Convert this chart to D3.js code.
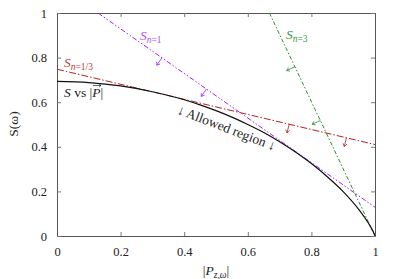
<!DOCTYPE html>
<html>
<head>
<script src="https://d3js.org/d3.v7.min.js"></script>
<style>
  body { margin: 0; background: #fff; }
  svg text { font-family: "Liberation Serif", serif; }
</style>
</head>
<body>
<div id="chart"></div>
<script>
// black curve: S vs |P|
const curveP = [0, 0.1, 0.2, 0.3, 0.4, 0.45, 0.5, 0.55, 0.6, 0.65, 0.7, 0.75, 0.8, 0.85, 0.9, 0.95, 0.98, 0.99, 0.995, 1];
const curveS = [0.693, 0.688, 0.673, 0.647, 0.611, 0.588, 0.562, 0.533, 0.500, 0.464, 0.423, 0.377, 0.325, 0.266, 0.199, 0.117, 0.056, 0.032, 0.018, 0];

// tangent bounds S_n: endpoints [x0, y0, x1, y1] and positions of the arrows (x on the line)
const lineNames = ["n=1/3", "n=1", "n=3"];
const lineColors = ["#b22222", "#a020f0", "#2e8b2e"];
const lineEnds = [[0, 0.748, 1, 0.41], [0.129, 1, 1, 0.129], [0.668, 1, 1, 0]];
const arrowX = [[0.73, 0.91], [0.33, 0.47], [0.748, 0.828]];
const lineDash = ["7,2,1.5,2", "5,2,1.5,2,1.5,2", "4,2,1.5,2"];

const xTicks = [0, 0.2, 0.4, 0.6, 0.8, 1];
const yTicks = [0, 0.2, 0.4, 0.6, 0.8, 1];

const FONT = "Liberation Serif";
const width = 399, height = 279;
const margin = {top: 13, right: 24, bottom: 43, left: 57};

const x = d3.scaleLinear().domain([0, 1]).range([margin.left, width - margin.right]);
const y = d3.scaleLinear().domain([0, 1]).range([height - margin.bottom, margin.top]);

const svg = d3.select("#chart").append("svg")
    .attr("width", width)
    .attr("height", height);

svg.append("clipPath").attr("id", "clip")
  .append("rect")
    .attr("x", margin.left).attr("y", margin.top)
    .attr("width", x(1) - x(0)).attr("height", y(0) - y(1));

// axes with inward ticks on all four sides
const fmt = d => d === 0 || d === 1 ? d3.format("d")(d) : d3.format(".1f")(d);
function styleAxis(g) {
  g.attr("font-family", FONT);
  g.select(".domain").attr("stroke", "#555");
  g.selectAll(".tick line").attr("stroke", "#777");
  g.selectAll(".tick text").style("font-family", FONT).style("font-size", "12.5px").attr("fill", "#222");
}
svg.append("g")
    .attr("transform", "translate(0," + y(0) + ")")
    .call(d3.axisBottom(x).tickValues(xTicks).tickFormat(fmt).tickSizeInner(-4).tickSizeOuter(0).tickPadding(11))
    .call(styleAxis);
svg.append("g")
    .attr("transform", "translate(0," + y(1) + ")")
    .call(d3.axisTop(x).tickValues(xTicks).tickFormat("").tickSizeInner(-4).tickSizeOuter(0))
    .call(styleAxis);
svg.append("g")
    .attr("transform", "translate(" + x(0) + ",0)")
    .call(d3.axisLeft(y).tickValues(yTicks).tickFormat(fmt).tickSizeInner(-4).tickSizeOuter(0).tickPadding(10))
    .call(styleAxis);
svg.append("g")
    .attr("transform", "translate(" + x(1) + ",0)")
    .call(d3.axisRight(y).tickValues(yTicks).tickFormat("").tickSizeInner(-4).tickSizeOuter(0))
    .call(styleAxis);

const plot = svg.append("g").attr("clip-path", "url(#clip)");

// tangent lines
lineEnds.forEach((e, i) => {
  plot.append("line")
      .attr("x1", x(e[0])).attr("y1", y(e[1]))
      .attr("x2", x(e[2])).attr("y2", y(e[3]))
      .attr("stroke", lineColors[i])
      .attr("stroke-width", 1)
      .attr("stroke-dasharray", lineDash[i]);

  // arrows pointing to the allowed side
  const dx = x(e[2]) - x(e[0]), dy = y(e[3]) - y(e[1]);
  const len = Math.hypot(dx, dy);
  const nx = -dy / len, ny = dx / len; // perpendicular
  const sx = nx < 0 ? nx : -nx, sy = nx < 0 ? ny : -ny;
  arrowX[i].forEach(ax => {
    const t = (ax - e[0]) / (e[2] - e[0]);
    const px = x(ax), py = y(e[1] + t * (e[3] - e[1]));
    const L = 9;
    const tx = px + sx * L, ty = py + sy * L;
    const ang = Math.atan2(sy, sx);
    const h = 3.5, a = 0.6;
    plot.append("path")
        .attr("d", "M" + px + "," + py + "L" + tx + "," + ty +
          "M" + (tx - h * Math.cos(ang - a)) + "," + (ty - h * Math.sin(ang - a)) +
          "L" + tx + "," + ty +
          "L" + (tx - h * Math.cos(ang + a)) + "," + (ty - h * Math.sin(ang + a)))
        .attr("fill", "none")
        .attr("stroke", lineColors[i])
        .attr("stroke-width", 0.8);
  });
});

// S vs |P| curve
plot.append("path")
    .datum(curveP.map((p, i) => [p, curveS[i]]))
    .attr("d", d3.line().x(d => x(d[0])).y(d => y(d[1])).curve(d3.curveMonotoneX))
    .attr("fill", "none")
    .attr("stroke", "#111")
    .attr("stroke-width", 1.2);

// labels
function addText(px, py, size, color) {
  return svg.append("text").attr("x", px).attr("y", py)
    .attr("font-family", FONT)
    .style("font-family", FONT).style("font-size", size + "px").attr("fill", color);
}
function subLabel(px, py, sub, color) {
  const t = addText(px, py, 13.5, color);
  t.append("tspan").style("font-style", "italic").text("S");
  t.append("tspan").style("font-size", "9.5px").style("font-style", "italic").attr("dy", 2.5).text("n");
  t.append("tspan").style("font-size", "9.5px").text(sub);
}
subLabel(64, 67, "=1/3", "#c03a3a");
subLabel(140, 40, "=1", "#b050e8");
subLabel(286, 39, "=3", "#3a9a3a");

const sv = addText(64, 97, 13.5, "#222");
sv.append("tspan").style("font-style", "italic").text("S");
sv.append("tspan").text(" vs |");
sv.append("tspan").style("font-style", "italic").text("P");
sv.append("tspan").text("|");
// vector arrow above P
svg.append("path")
    .attr("d", "M93,85.5L101,85.5M99,83.8L101,85.5L99,87.2")
    .attr("fill", "none").attr("stroke", "#222").attr("stroke-width", 0.7);

addText(0, 0, 13.5, "#222")
    .attr("x", null).attr("y", null)
    .attr("transform", "translate(225,132) rotate(21)")
    .attr("text-anchor", "middle")
    .text("\u2193 Allowed region \u2193");

// axis titles
addText(0, 0, 13.5, "#222")
    .attr("x", null).attr("y", null)
    .attr("transform", "translate(18,124) rotate(-90)")
    .attr("text-anchor", "middle")
    .text("S(\u03C9)");

const xl = addText(216, 275, 13.5, "#222").attr("text-anchor", "middle");
xl.append("tspan").text("|");
xl.append("tspan").style("font-style", "italic").text("P");
xl.append("tspan").style("font-size", "9.5px").attr("dy", 2.5).style("font-style", "italic").text("z,\u03C9");
xl.append("tspan").attr("dy", -2.5).text("|");
</script>
</body>
</html>
